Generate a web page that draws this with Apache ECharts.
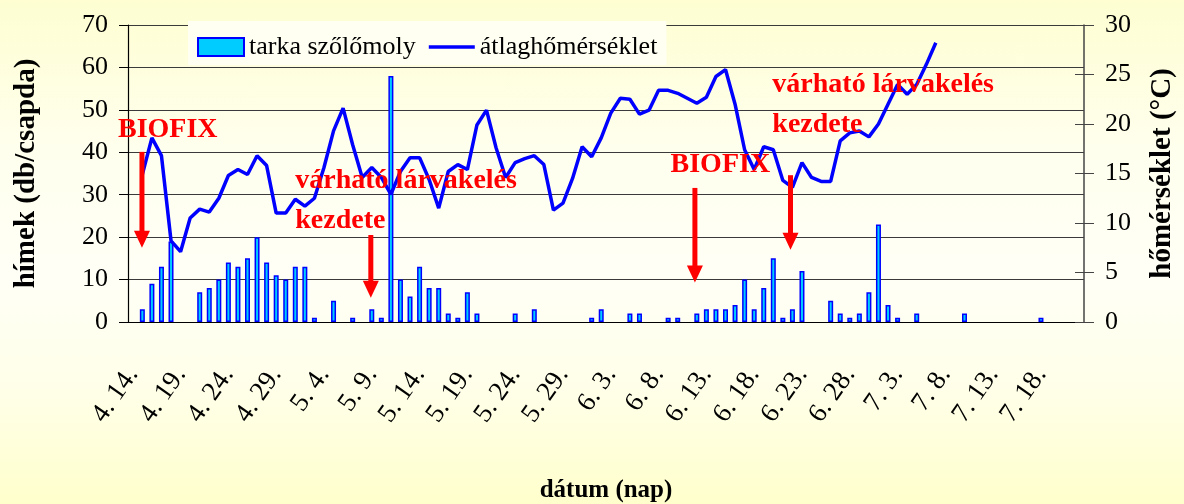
<!DOCTYPE html>
<html>
<head>
<meta charset="utf-8">
<script src="https://cdn.jsdelivr.net/npm/echarts@6/dist/echarts.min.js"></script>
<style>
html,body{margin:0;padding:0;}
body{width:1184px;height:504px;background:linear-gradient(to bottom,#FEFED2 0%,#FFFFEE 30%,#FFFFF6 55%,#FFFFE8 78%,#FFFFCC 100%);}
#chart{width:1184px;height:504px;}
</style>
</head>
<body>
<div id="chart"></div>
<script>
// Categories: daily dates 4.14 – 7.22
const dates = [
 '4. 14.','4. 15.','4. 16.','4. 17.','4. 18.','4. 19.','4. 20.','4. 21.','4. 22.','4. 23.',
 '4. 24.','4. 25.','4. 26.','4. 27.','4. 28.','4. 29.','4. 30.','5. 1.','5. 2.','5. 3.',
 '5. 4.','5. 5.','5. 6.','5. 7.','5. 8.','5. 9.','5. 10.','5. 11.','5. 12.','5. 13.',
 '5. 14.','5. 15.','5. 16.','5. 17.','5. 18.','5. 19.','5. 20.','5. 21.','5. 22.','5. 23.',
 '5. 24.','5. 25.','5. 26.','5. 27.','5. 28.','5. 29.','5. 30.','5. 31.','6. 1.','6. 2.',
 '6. 3.','6. 4.','6. 5.','6. 6.','6. 7.','6. 8.','6. 9.','6. 10.','6. 11.','6. 12.',
 '6. 13.','6. 14.','6. 15.','6. 16.','6. 17.','6. 18.','6. 19.','6. 20.','6. 21.','6. 22.',
 '6. 23.','6. 24.','6. 25.','6. 26.','6. 27.','6. 28.','6. 29.','6. 30.','7. 1.','7. 2.',
 '7. 3.','7. 4.','7. 5.','7. 6.','7. 7.','7. 8.','7. 9.','7. 10.','7. 11.','7. 12.',
 '7. 13.','7. 14.','7. 15.','7. 16.','7. 17.','7. 18.','7. 19.','7. 20.','7. 21.','7. 22.'
];
// tarka szőlőmoly – hímek (db/csapda)
const mothCounts = [
 null,3,9,13,19,null,null,7,8,10,
 14,13,15,20,14,11,10,13,13,1,
 null,5,null,1,null,3,1,58,10,6,
 13,8,8,2,1,7,2,null,null,null,
 2,null,3,null,null,null,null,null,1,3,
 null,null,2,2,null,null,1,1,null,2,
 3,3,3,4,10,3,8,15,1,3,
 12,null,null,5,2,1,2,7,23,4,
 1,null,2,null,null,null,null,2,null,null,
 null,null,null,null,null,1,null,null,null,null
];
// átlaghőmérséklet (°C)
const meanTemp = [
 null,14.9,18.6,16.8,8.2,7.1,10.5,11.4,11.1,12.5,
 14.8,15.4,14.9,16.8,15.8,11.0,11.0,12.4,11.7,12.5,
 15.6,19.3,21.6,17.9,14.6,15.6,14.6,12.9,15.2,16.6,
 16.6,14.4,11.5,15.2,15.9,15.4,19.9,21.4,17.6,14.6,
 16.1,16.5,16.8,15.9,11.3,12.0,14.5,17.7,16.7,18.6,
 21.1,22.6,22.5,21.0,21.4,23.4,23.4,23.1,22.6,22.1,
 22.7,24.8,25.5,22.0,17.4,15.4,17.7,17.4,14.3,13.6,
 16.1,14.6,14.2,14.2,18.3,19.1,19.3,18.7,20.0,22.0,
 24.0,23.0,24.0,26.0,28.2,null,null,null,null,null,
 null,null,null,null,null,null,null,null,null,null
];
const leftTicks = {min:0, max:70, interval:10};
const rightTicks = {min:0, max:30, interval:5};
const seriesNames = ['tarka szőlőmoly','átlaghőmérséklet'];
const axisNames = {x:'dátum (nap)', left:'hímek (db/csapda)', right:'hőmérséklet (°C)'};
// annotations: position as (category index, left-axis value)
const noteTexts = [
 {text:'BIOFIX', cat:-1.55, val:45.3},
 {text:'várható lárvakelés', cat:17.0, val:33.3},
 {text:'kezdete', cat:17.0, val:23.9},
 {text:'BIOFIX', cat:56.25, val:37.0},
 {text:'várható lárvakelés', cat:66.9, val:55.9},
 {text:'kezdete', cat:66.9, val:46.4}
];
const noteArrows = [
 {cat:0.96, from:40.1, to:17.5},
 {cat:24.9, from:20.5, to:5.7},
 {cat:58.8, from:31.6, to:9.3},
 {cat:68.8, from:34.6, to:17.0}
];

const FONT = '"Liberation Serif","Times New Roman",serif';
const chart = echarts.init(document.getElementById('chart'), null, {renderer:'canvas'});
const option = {
 animation:false,
 backgroundColor:'transparent',
 grid:{left:128, right:100, top:25, bottom:182, containLabel:false, outerBoundsMode:'none'},
 legend:{
  left:188, top:21, padding:[13,9,5,9], itemGap:13, itemWidth:46, itemHeight:18,
  backgroundColor:'#FFFFF2',
  textStyle:{fontFamily:FONT, fontSize:26, color:'#000'},
  data:[
   {name:seriesNames[0], icon:'rect'},
   {name:seriesNames[1], icon:'path://M0,0 M0,7.25 L46,7.25 L46,10.75 L0,10.75 Z M46,18'}
  ]
 },
 xAxis:[
  {type:'category', data:dates, boundaryGap:true,
   axisLine:{lineStyle:{color:'#000', width:1}},
   axisTick:{interval:4, length:10, lineStyle:{color:'#000'}},
   axisLabel:{interval:4, rotate:55, fontFamily:FONT, fontSize:27, color:'#000', margin:48},
   splitLine:{show:false},
   name:axisNames.x, nameLocation:'middle', nameGap:156,
   nameTextStyle:{fontFamily:FONT, fontSize:25, fontWeight:'bold', color:'#000'}},
  {type:'category', data:dates, boundaryGap:true, position:'bottom',
   axisLine:{show:false}, axisLabel:{show:false}, splitLine:{show:false},
   axisTick:{inside:true, interval:4, length:8, lineStyle:{color:'#000'}}}
 ],
 yAxis:[
  {type:'value', min:leftTicks.min, max:leftTicks.max, interval:leftTicks.interval, position:'left',
   axisLine:{show:true, lineStyle:{color:'#000', width:1.2}},
   axisTick:{show:true, length:9, lineStyle:{color:'#000'}},
   axisLabel:{fontFamily:FONT, fontSize:26, color:'#000', margin:20},
   splitLine:{show:true, lineStyle:{color:'#3a3a3a', width:1}},
   name:axisNames.left, nameLocation:'middle', nameRotate:90, nameGap:87,
   nameTextStyle:{fontFamily:FONT, fontSize:29, fontWeight:'bold', color:'#000'}},
  {type:'value', min:rightTicks.min, max:rightTicks.max, interval:rightTicks.interval, position:'right',
   axisLine:{show:true, lineStyle:{color:'#444', width:1.5}},
   axisTick:{show:true, length:10, lineStyle:{color:'#444'}},
   axisLabel:{fontFamily:FONT, fontSize:26, color:'#000', margin:21},
   splitLine:{show:false},
   name:axisNames.right, nameLocation:'middle', nameRotate:90, nameGap:64,
   nameTextStyle:{fontFamily:FONT, fontSize:29, fontWeight:'bold', color:'#000'}},
  {type:'value', min:rightTicks.min, max:rightTicks.max, interval:rightTicks.interval, position:'right',
   axisLine:{show:false}, axisLabel:{show:false}, splitLine:{show:false},
   axisTick:{show:true, inside:true, length:9, lineStyle:{color:'#444'}}}
 ],
 series:[
  {name:seriesNames[0], type:'bar', xAxisIndex:0, yAxisIndex:0, data:mothCounts, barWidth:5,
   itemStyle:{color:'#00CCFF', borderColor:'#0000FF', borderWidth:1.5}, z:2},
  {name:seriesNames[1], type:'line', xAxisIndex:0, yAxisIndex:1, data:meanTemp, symbol:'none',
   lineStyle:{color:'#0000FF', width:3.5}, itemStyle:{color:'#0000FF'}, connectNulls:false, z:3}
 ]
};
chart.setOption(option);

function xAt(f){
 const a = chart.convertToPixel({xAxisIndex:0}, 0);
 const b = chart.convertToPixel({xAxisIndex:0}, 1);
 return a + f*(b-a);
}
function yAt(v){ return chart.convertToPixel({yAxisIndex:0}, v); }

const graphics = [];
noteArrows.forEach(a=>{
 const x = xAt(a.cat), y0 = yAt(a.from), y1 = yAt(a.to);
 const headH = 17, headW = 8;
 graphics.push({type:'rect', z:50, shape:{x:x-2.5, y:y0, width:5, height:(y1-headH)-y0+1}, style:{fill:'#FF0000'}});
 graphics.push({type:'polygon', z:50, shape:{points:[[x-headW,y1-headH],[x+headW,y1-headH],[x,y1]]}, style:{fill:'#FF0000'}});
});
noteTexts.forEach(t=>{
 graphics.push({type:'text', z:60, x:xAt(t.cat), y:yAt(t.val),
  style:{text:t.text, fill:'#FF0000', fontFamily:FONT, fontSize:28, fontWeight:'bold', align:'left', verticalAlign:'middle'}});
});
chart.setOption({graphic:graphics});
</script>
</body>
</html>
